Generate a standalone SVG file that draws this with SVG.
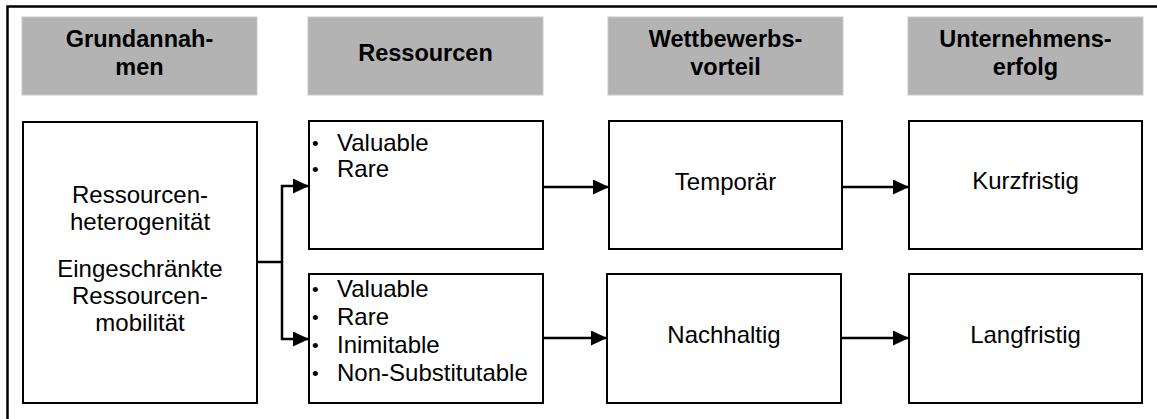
<svg xmlns="http://www.w3.org/2000/svg" width="1157" height="419" viewBox="0 0 1157 419">
<defs>
<style>
.hdr{fill:#b3b3b3;stroke:#c8c8c8;stroke-width:1}
.box{fill:#fff;stroke:#000;stroke-width:2}
.ht{font-family:"Liberation Sans",Arial,sans-serif;font-weight:bold;font-size:23.5px;fill:#000;text-anchor:middle}
.bt{font-family:"Liberation Sans",Arial,sans-serif;font-size:24px;fill:#000;text-anchor:middle}
.lt{font-family:"Liberation Sans",Arial,sans-serif;font-size:24px;fill:#000}
.bu{font-family:"Liberation Sans",Arial,sans-serif;font-size:19px;fill:#000}
.con{fill:none;stroke:#000;stroke-width:2.5}
</style>
<marker id="ah" viewBox="0 0 16 15" refX="16" refY="7.5" markerWidth="16" markerHeight="15" markerUnits="userSpaceOnUse" orient="auto">
<path d="M0,0 L16,7.5 L0,15 Z" fill="#000"/>
</marker>
</defs>
<rect width="1157" height="419" fill="#fff"/>
<path d="M7.5,419 V6.5 H1157" fill="none" stroke="#000" stroke-width="2.5"/>

<g id="h1"><rect class="hdr" x="22" y="17" width="235" height="78"/><text class="ht" x="139.5" y="47">Grundannah-</text><text class="ht" x="139.5" y="75">men</text></g>
<g id="h2"><rect class="hdr" x="308" y="17" width="235" height="78"/><text class="ht" x="425.5" y="61">Ressourcen</text></g>
<g id="h3"><rect class="hdr" x="608" y="17" width="235" height="78"/><text class="ht" x="725.5" y="47">Wettbewerbs-</text><text class="ht" x="725.5" y="75">vorteil</text></g>
<g id="h4"><rect class="hdr" x="908" y="17" width="235" height="78"/><text class="ht" x="1025.5" y="47">Unternehmens-</text><text class="ht" x="1025.5" y="75">erfolg</text></g>

<g id="n1"><rect class="box" x="23" y="122" width="234" height="281"/>
<text class="bt" x="140" y="203">Ressourcen-</text><text class="bt" x="140" y="230">heterogenität</text>
<text class="bt" x="140" y="277">Eingeschränkte</text><text class="bt" x="140" y="304">Ressourcen-</text><text class="bt" x="140" y="331">mobilität</text></g>

<g id="n2"><rect class="box" x="309" y="121" width="234" height="128"/>
<text class="bu" x="312" y="150">•</text><text class="lt" x="337" y="151">Valuable</text>
<text class="bu" x="312" y="176">•</text><text class="lt" x="337" y="177">Rare</text></g>

<g id="n3"><rect class="box" x="309" y="274" width="234" height="129"/>
<text class="bu" x="312" y="296">•</text><text class="lt" x="337" y="297">Valuable</text>
<text class="bu" x="312" y="324">•</text><text class="lt" x="337" y="325">Rare</text>
<text class="bu" x="312" y="352">•</text><text class="lt" x="337" y="353">Inimitable</text>
<text class="bu" x="312" y="380">•</text><text class="lt" x="337" y="381">Non-Substitutable</text></g>

<g id="n4"><rect class="box" x="609" y="121" width="233" height="128"/><text class="bt" x="725.5" y="190">Temporär</text></g>
<g id="n5"><rect class="box" x="607" y="274" width="234" height="129"/><text class="bt" x="724" y="343">Nachhaltig</text></g>
<g id="n6"><rect class="box" x="909" y="121" width="233" height="128"/><text class="bt" x="1025.5" y="189">Kurzfristig</text></g>
<g id="n7"><rect class="box" x="909" y="274" width="233" height="129"/><text class="bt" x="1025.5" y="343">Langfristig</text></g>

<g id="connectors">
<path class="con" d="M257,262 H282"/>
<path class="con" d="M282,262 V186 H309" marker-end="url(#ah)"/>
<path class="con" d="M282,262 V339 H309" marker-end="url(#ah)"/>
<path class="con" d="M543,187 H609" marker-end="url(#ah)"/>
<path class="con" d="M543,338 H607" marker-end="url(#ah)"/>
<path class="con" d="M842,187 H909" marker-end="url(#ah)"/>
<path class="con" d="M841,338 H909" marker-end="url(#ah)"/>
</g>
</svg>
